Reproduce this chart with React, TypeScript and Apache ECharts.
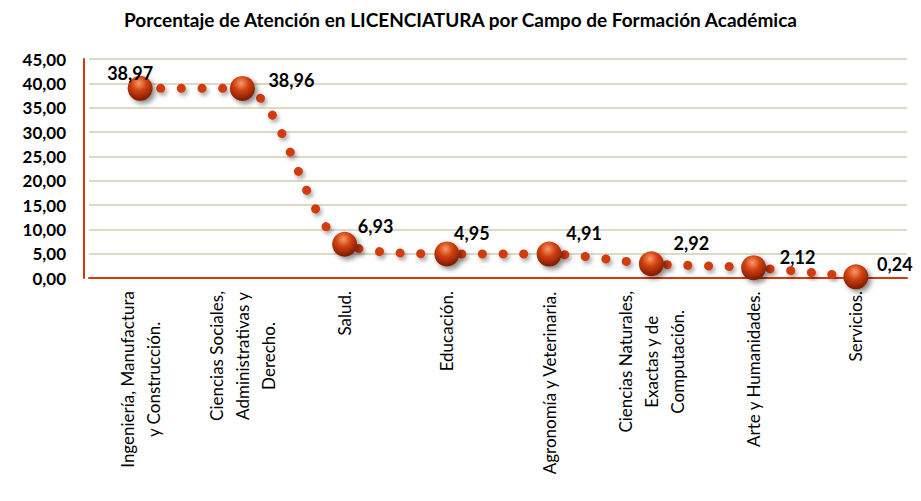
import React, { useEffect, useRef } from "react";
import * as echarts from "echarts";

const categories = [
  "Ingeniería, Manufactura\ny Construcción.",
  "Ciencias Sociales,\nAdministrativas y\nDerecho.",
  "Salud.",
  "Educación.",
  "Agronomía y Veterinaria.",
  "Ciencias Naturales,\nExactas y de\nComputación.",
  "Arte y Humanidades.",
  "Servicios.",
];
const values = [38.97, 38.96, 6.93, 4.95, 4.91, 2.92, 2.12, 0.24];
const labelOffsets = [
  [-10, -15],
  [49, -8],
  [31, -18],
  [25, -21],
  [35, -21],
  [40, -21],
  [44, -11],
  [39, -13],
];
const titleText = "Porcentaje de Atención en LICENCIATURA por Campo de Formación Académica";

const FONT = "Lato, 'Open Sans', sans-serif";
const RED = "#D23A0A";

const fmt = (v: number) => v.toFixed(2).replace(".", ",");

export default function App() {
  const ref = useRef<HTMLDivElement>(null);
  useEffect(() => {
    if (!ref.current) return;
    const chart = echarts.init(ref.current, undefined, { renderer: "svg" });
    const sphere = new echarts.graphic.RadialGradient(0.45, 0.3, 0.75, [
      { offset: 0, color: "#f79a6c" },
      { offset: 0.4, color: "#d2420f" },
      { offset: 1, color: "#6e1400" },
    ]);
    chart.setOption({
      animation: false,
      backgroundColor: "#ffffff",
      title: {
        text: titleText,
        left: "center",
        top: 5,
        textStyle: { fontFamily: FONT, fontSize: 19, fontWeight: "bold", color: "#000" },
      },
      grid: { left: 89, right: 14, top: 59, bottom: 223, containLabel: false },
      xAxis: {
        type: "category",
        data: categories,
        boundaryGap: true,
        axisLine: { lineStyle: { color: RED, width: 2 } },
        axisTick: { show: false },
        axisLabel: {
          interval: 0,
          rotate: 90,
          margin: 13,
          color: "#000",
          fontFamily: FONT,
          fontSize: 17,
          lineHeight: 26,
          formatter: (v: string) =>
            v
              .split("\n")
              .map((l) => "{c|" + l + "}")
              .join("\n"),
          rich: {
            c: { align: "center", fontFamily: FONT, fontSize: 17, lineHeight: 26, color: "#000" },
          },
        },
        splitLine: { show: false },
      },
      yAxis: {
        type: "value",
        min: 0,
        max: 45,
        interval: 5,
        offset: 5,
        axisLine: { show: true, lineStyle: { color: RED, width: 2 } },
        axisTick: { show: false },
        axisLabel: {
          margin: 18,
          color: "#000",
          fontFamily: FONT,
          fontSize: 17,
          fontWeight: "bold",
          formatter: (v: number) => fmt(v),
        },
        splitLine: { lineStyle: { color: "#DCD9C6", width: 2 } },
      },
      series: [
        {
          type: "line",
          data: values.map((v, i) => ({
            value: v,
            label: { offset: labelOffsets[i] },
          })),
          smooth: 0.3,
          symbol: "circle",
          symbolSize: 25,
          itemStyle: {
            color: sphere,
            shadowBlur: 5,
            shadowColor: "rgba(0,0,0,0.45)",
            shadowOffsetX: 3,
            shadowOffsetY: 3,
          },
          lineStyle: {
            color: RED,
            width: 9,
            type: [0.1, 20.5],
            cap: "round",
            shadowBlur: 4,
            shadowColor: "rgba(0,0,0,0.35)",
            shadowOffsetX: 2,
            shadowOffsetY: 3,
          },
          label: {
            show: true,
            position: "inside",
            fontFamily: FONT,
            fontSize: 18,
            fontWeight: "bold",
            color: "#000",
            formatter: (p: any) => fmt(p.value),
          },
          z: 3,
        },
      ],
    });
    return () => chart.dispose();
  }, []);
  return (
    <div
      ref={ref}
      style={{ position: "absolute", left: 0, top: 0, width: 921, height: 501 }}
    />
  );
}
